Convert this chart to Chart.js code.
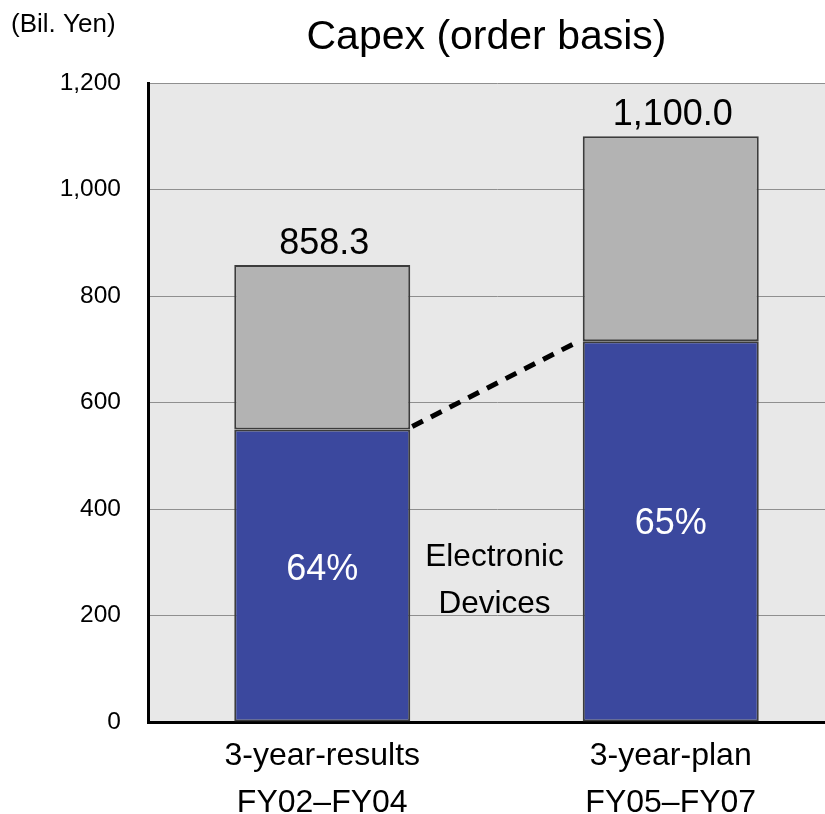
<!DOCTYPE html>
<html>
<head>
<meta charset="utf-8">
<script src="https://cdn.jsdelivr.net/npm/chart.js@4.4.1/dist/chart.umd.min.js"></script>
<style>
  html, body { margin: 0; padding: 0; background: #ffffff; overflow: hidden; }
  #wrap { width: 845px; height: 814px; }
</style>
</head>
<body>
<div id="wrap"><canvas id="c" width="845" height="814"></canvas></div>
<script>
// Capex on an order basis, billions of yen
const categories = [['3-year-results', 'FY02–FY04'], ['3-year-plan', 'FY05–FY07']];
const totals = [858.3, 1100.0];
const electronicShare = [64, 65];            // percent of total
const electronicDevices = [549.3, 715.0];    // share × total
const otherSegments = [309.0, 385.0];        // total − electronic devices
const totalLabels = ['858.3', '1,100.0'];
const shareLabels = ['64%', '65%'];
const yTicks = [0, 200, 400, 600, 800, 1000, 1200];

const FONT = '"Liberation Sans", Arial, Helvetica, sans-serif';

const annotations = {
  id: 'annotations',
  beforeDraw(chart) {
    const { ctx, chartArea: a } = chart;
    ctx.save();
    ctx.fillStyle = '#e8e8e8';
    ctx.fillRect(a.left, a.top, a.right - a.left, a.bottom - a.top);
    ctx.restore();
  },
  afterDatasetsDraw(chart) {
    const { ctx, scales } = chart;
    const y = scales.y;
    const blue = chart.getDatasetMeta(0).data;
    const gray = chart.getDatasetMeta(1).data;
    ctx.save();

    // dashed connector between the tops of the electronic-devices segments
    const x1 = blue[0].x + blue[0].width / 2 + 2;
    const y1 = y.getPixelForValue(electronicDevices[0]);
    const x2 = blue[1].x - blue[1].width / 2 - 10;
    const y2 = y.getPixelForValue(electronicDevices[1]);
    ctx.strokeStyle = '#000';
    ctx.lineWidth = 5;
    ctx.setLineDash([12, 9]);
    ctx.beginPath();
    ctx.moveTo(x1, y1 - 3);
    ctx.lineTo(x2, y2 + 3);
    ctx.stroke();
    ctx.setLineDash([]);

    ctx.textAlign = 'center';
    ctx.textBaseline = 'middle';

    // totals above each bar
    ctx.fillStyle = '#000';
    ctx.font = '36px ' + FONT;
    gray.forEach((bar, i) => {
      ctx.fillText(totalLabels[i], bar.x + 2, y.getPixelForValue(totals[i]) - 21);
    });

    // share of electronic devices inside the blue segment
    ctx.fillStyle = '#ffffff';
    blue.forEach((bar, i) => {
      const mid = y.getPixelForValue(electronicDevices[i] * 0.52);
      ctx.fillText(shareLabels[i], bar.x, mid);
    });

    // segment name between the bars
    ctx.fillStyle = '#000';
    ctx.font = '31.5px ' + FONT;
    const cx = (blue[0].x + blue[0].width / 2 + blue[1].x - blue[1].width / 2) / 2 - 2;
    const cy = y.getPixelForValue(266);
    ctx.fillText('Electronic', cx, cy - 23);
    ctx.fillText('Devices', cx, cy + 24);

    // title and unit
    const a = chart.chartArea;
    ctx.font = '41px ' + FONT;
    ctx.fillText('Capex (order basis)', (a.left + 825) / 2, 38);
    ctx.font = '26px ' + FONT;
    ctx.textAlign = 'left';
    ctx.fillText('(Bil. Yen)', 11, 25);
    ctx.restore();
  }
};

new Chart(document.getElementById('c'), {
  type: 'bar',
  data: {
    labels: categories,
    datasets: [
      {
        label: 'Electronic Devices',
        data: electronicDevices,
        backgroundColor: '#3b489e',
        borderColor: '#3c3c3c',
        borderWidth: 2,
        borderSkipped: false,
        barPercentage: 0.505,
        categoryPercentage: 1
      },
      {
        label: 'Other',
        data: otherSegments,
        backgroundColor: '#b3b3b3',
        borderColor: '#3c3c3c',
        borderWidth: 2,
        borderSkipped: false,
        barPercentage: 0.505,
        categoryPercentage: 1
      }
    ]
  },
  options: {
    responsive: false,
    animation: false,
    layout: { padding: { top: 83, left: 0, right: 0, bottom: 0 } },
    plugins: { legend: { display: false }, tooltip: { enabled: false } },
    scales: {
      x: {
        stacked: true,
        grid: { display: false, drawTicks: false },
        border: { display: true, color: '#000', width: 3 },
        ticks: {
          color: '#000',
          padding: 11,
          maxRotation: 0,
          font: { family: FONT, size: 32, lineHeight: 1.47 }
        },
        afterFit(scale) { scale.height = 92; }
      },
      y: {
        stacked: true,
        min: 0,
        max: 1200,
        afterBuildTicks(scale) { scale.ticks = yTicks.map(v => ({ value: v })); },
        grid: { color: '#8f8f8f', lineWidth: 1, drawTicks: false },
        border: { display: true, color: '#000', width: 3 },
        ticks: {
          color: '#000',
          padding: 27,
          font: { family: FONT, size: 24.5 },
          callback: v => v.toLocaleString('en-US')
        },
        afterFit(scale) { scale.width = 148; }
      }
    }
  },
  plugins: [annotations]
});
</script>
</body>
</html>
